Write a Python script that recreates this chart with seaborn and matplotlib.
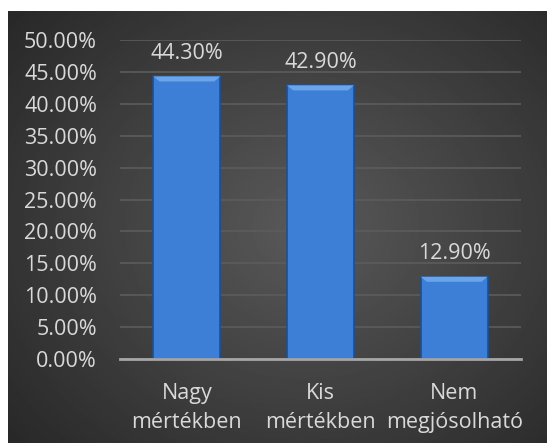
import numpy as np
import pandas as pd
import matplotlib
matplotlib.use("Agg")
import matplotlib.pyplot as plt
from matplotlib.patches import Polygon
import seaborn as sns

# data
categories = ["Nagy\nmértékben", "Kis\nmértékben", "Nem\nmegjósolható"]
values = [0.443, 0.429, 0.129]
value_labels = ["44.30%", "42.90%", "12.90%"]
y_ticks = [0.0, 0.05, 0.10, 0.15, 0.20, 0.25, 0.30, 0.35, 0.40, 0.45, 0.50]

df = pd.DataFrame({"category": categories, "value": values})

sns.set_style("dark")
plt.rcParams["font.family"] = ["Open Sans", "DejaVu Sans"]

W, H = 547, 443
fig = plt.figure(figsize=(W / 100, H / 100), dpi=100)
fig.patch.set_facecolor("white")

# dark radial-gradient background panel
bg = fig.add_axes([8 / W, 0, (W - 8) / W, (H - 11) / H])
yy, xx = np.mgrid[0:1:300j, 0:1:400j]
r = np.sqrt(((xx - 0.55) / 0.75) ** 2 + ((yy - 0.5) / 0.8) ** 2)
shade = np.clip(0.35 - 0.2 * r, 0.15, 0.35)
bg.imshow(shade, cmap="gray", vmin=0, vmax=1, aspect="auto", extent=[0, 1, 0, 1])
bg.axis("off")

ax = fig.add_axes([120 / W, (H - 359) / H, 401 / W, 319 / H])
ax.set_facecolor("none")
sns.barplot(data=df, x="category", y="value", color="#3d7fd6", width=0.5,
            saturation=1, edgecolor="#1f4f8f", linewidth=1.2, ax=ax, zorder=3)

# bevel on the top of each bar
dx = 0.045
dy = 0.008
for p in list(ax.patches):
    x0, w, h = p.get_x(), p.get_width(), p.get_height()
    top = Polygon([[x0, h], [x0 + w, h], [x0 + w - dx, h - dy], [x0 + dx, h - dy]],
                  closed=True, facecolor="#6aa5ec", edgecolor="none", zorder=4)
    ax.add_patch(top)

ax.set_ylim(0, 0.5)
ax.set_yticks(y_ticks)
ax.set_yticklabels([f"{t * 100:.2f}%" for t in y_ticks])
ax.grid(axis="y", color="#5c5c5c", linewidth=1.2, zorder=0)
ax.grid(axis="x", visible=False)
for s in ["top", "right", "left"]:
    ax.spines[s].set_visible(False)
ax.spines["bottom"].set_color("#a6a6a6")
ax.spines["bottom"].set_linewidth(2)
ax.spines["bottom"].set_zorder(5)
ax.tick_params(axis="both", colors="#d9d9d9", labelsize=15.5, length=0)
ax.tick_params(axis="y", pad=16.5)
ax.tick_params(axis="x", pad=17.5)
ax.set_xlabel("")
ax.set_ylabel("")
for lbl in ax.get_xticklabels():
    lbl.set_linespacing(1.5)

for i, (v, txt) in enumerate(zip(values, value_labels)):
    ax.annotate(txt, (i, v), xytext=(0, 9), textcoords="offset points",
                ha="center", va="bottom", color="#d9d9d9", fontsize=15.5)

fig.savefig("out.png", dpi=100)
